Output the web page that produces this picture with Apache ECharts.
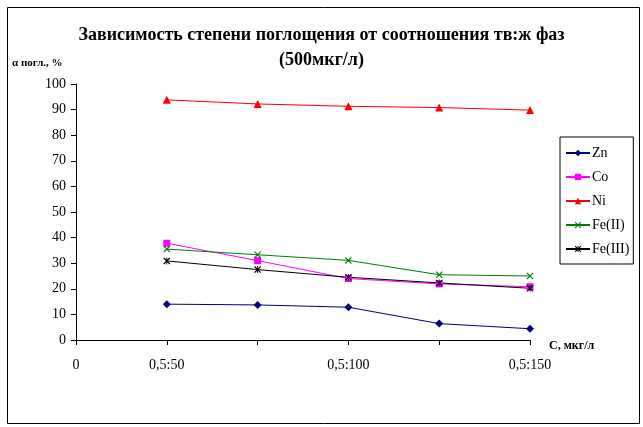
<!DOCTYPE html>
<html><head><meta charset="utf-8">
<script src="https://cdn.jsdelivr.net/npm/echarts@6/dist/echarts.min.js"></script>
<style>html,body{margin:0;padding:0;background:#fff}#c{width:643px;height:427px}</style>
</head><body><div id="c"></div>
<script>
var categories = ['0', '0,5:50', '', '0,5:100', '', '0,5:150'];
var zn    = [null, 14.0, 13.7, 12.8, 6.4, 4.4];
var co    = [null, 37.8, 31.0, 24.0, 21.9, 20.8];
var ni    = [null, 93.8, 92.2, 91.3, 90.8, 89.8];
var fe2   = [null, 35.5, 33.3, 31.1, 25.5, 25.0];
var fe3   = [null, 30.9, 27.5, 24.5, 22.3, 20.2];
var yTicks = [0, 100, 10];

var FONT = '"Liberation Serif","Times New Roman",serif';
var xPath = 'path://M0,1.2L1.2,0L5,3.8L8.8,0L10,1.2L6.2,5L10,8.8L8.8,10L5,6.2L1.2,10L0,8.8L3.8,5Z';
var starPath = 'path://M0,1.2L1.2,0L5,3.8L8.8,0L10,1.2L6.2,5L10,8.8L8.8,10L5,6.2L1.2,10L0,8.8L3.8,5ZM4.4,0L5.6,0L5.6,10L4.4,10Z';

function mk(name, data, color, symbol, size) {
  return {name: name, type: 'line', data: data, connectNulls: false,
    symbol: symbol, symbolSize: size, showSymbol: true,
    lineStyle: {color: color, width: 1}, itemStyle: {color: color},
    animation: false};
}

var chart = echarts.init(document.getElementById('c'));
chart.setOption({
  backgroundColor: '#fff',
  animation: false,
  title: {
    text: 'Зависимость степени поглощения от соотношения тв:ж фаз\n(500мкг/л)',
    left: 'center', top: 18,
    textStyle: {fontFamily: FONT, fontWeight: 'bold', fontSize: 18, lineHeight: 25, color: '#000'}
  },
  graphic: [
    {type: 'rect', left: 5, top: 5, shape: {width: 632, height: 416},
     style: {fill: 'none', stroke: '#000', lineWidth: 1}},
    {type: 'text', left: 12, top: 58,
     style: {text: 'α погл., %', font: 'bold 11px ' + FONT, fill: '#000'}}
  ],
  legend: {
    orient: 'vertical', left: 560, top: 137,
    padding: [8, 4, 7, 5], itemGap: 8, itemWidth: 24, itemHeight: 8,
    borderColor: '#000', borderWidth: 1, backgroundColor: '#fff',
    textStyle: {fontFamily: FONT, fontSize: 14, lineHeight: 16, color: '#000', padding: [0,0,0,-3]},
    data: ['Zn', 'Co', 'Ni', 'Fe(II)', 'Fe(III)']
  },
  grid: {left: 76, right: 113, top: 84, bottom: 87, containLabel: false},
  xAxis: {
    type: 'category', data: categories, boundaryGap: false,
    name: 'С, мкг/л', nameLocation: 'end', nameGap: 19,
    nameTextStyle: {fontFamily: FONT, fontWeight: 'bold', fontSize: 12, color: '#000', verticalAlign: 'top', padding: [0,0,0,0]},
    axisLine: {lineStyle: {color: '#000', width: 1}},
    axisTick: {show: true, inside: false, length: 5, lineStyle: {color: '#000'}, interval: 0},
    axisLabel: {interval: 0, margin: 18, fontFamily: FONT, fontSize: 14, color: '#000'},
    splitLine: {show: false}
  },
  yAxis: {
    type: 'value', min: yTicks[0], max: yTicks[1], interval: yTicks[2],
    axisLine: {show: true, lineStyle: {color: '#000', width: 1}},
    axisTick: {show: true, length: 5, lineStyle: {color: '#000'}},
    axisLabel: {margin: 10, fontFamily: FONT, fontSize: 14, color: '#000'},
    splitLine: {show: false}
  },
  series: [
    mk('Zn', zn, '#000080', 'diamond', 8),
    mk('Co', co, '#FF00FF', 'rect', 7),
    mk('Ni', ni, '#FF0000', 'triangle', 8),
    mk('Fe(II)', fe2, '#008000', xPath, 7),
    mk('Fe(III)', fe3, '#000000', starPath, 7)
  ]
});
</script></body></html>
